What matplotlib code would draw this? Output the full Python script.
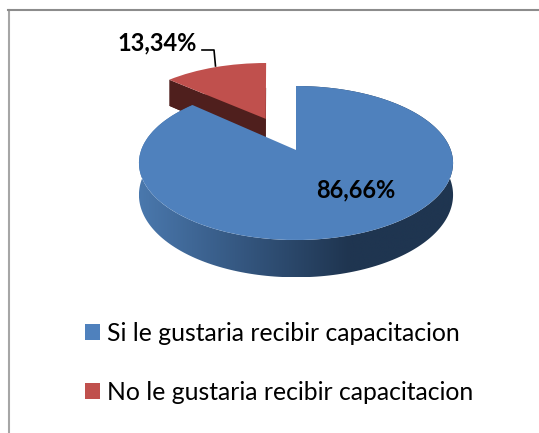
import numpy as np
import matplotlib
matplotlib.use("Agg")
import matplotlib.pyplot as plt
from matplotlib.colors import LinearSegmentedColormap
from matplotlib.patches import Patch, Polygon
from matplotlib.transforms import Transform

categories = ["Si le gustaria recibir capacitacion", "No le gustaria recibir capacitacion"]
values = [86.66, 13.34]
value_labels = ["86,66%", "13,34%"]
colors = ["#4f81bd", "#c0504d"]
wall_red = "#4f1f1d"
wall_blue = ["#4a78ad", "#34567f", "#1f3550", "#1f3550"]

plt.rcParams["font.family"] = ["Lato", "DejaVu Sans"]

# perspectiva del disco: (u, v) -> pixeles
CX, CY = 296.0, 150.0
RX, RY, K = 154.8, 74.8, 0.169
DEPTH = 31.0
EXPLODE = 0.49
RED_SHEAR = -3.5


class Persp(Transform):
    input_dims = 2
    output_dims = 2

    def __init__(self, drop=0.0, lean=0.0):
        super().__init__()
        self.drop = drop
        self.lean = lean

    def transform_non_affine(self, values):
        pts = np.asarray(values, dtype=float)
        u, v = pts[:, 0], pts[:, 1]
        w = 1 + K * v
        x = CX + RX * u / w + self.lean * v
        y = CY - RY * v / w + self.drop / w
        return np.column_stack([x, y])


fig = plt.figure(figsize=(5.39, 4.33), dpi=100)
ax = fig.add_axes([0, 0, 1, 1])


def set_limits():
    # limites en pixeles
    ax.set_aspect("auto")
    ax.set_xlim(0, 539)
    ax.set_ylim(433, 0)
    ax.axis("off")


def pie_layer(drop, face, only=None, zorder=2):
    wedges, _ = ax.pie(values, startangle=90, counterclock=False, colors=face,
                       explode=[0, EXPLODE], wedgeprops={"linewidth": 0})
    for i, wedge in enumerate(wedges):
        lean = RED_SHEAR if i == 1 else 0.0
        wedge.set_transform(Persp(drop, lean) + ax.transData)
        wedge.set_clip_on(False)
        wedge.set_zorder(zorder[i] if isinstance(zorder, list) else zorder)
        if only is not None and i != only:
            wedge.set_visible(False)
    return wedges


# angulos de corte sacados de los valores
cut = 90 - 360 * values[0] / 100 + 360   # angulo donde termina el azul
mid = np.deg2rad((cut + 90) / 2)
u0, v0 = EXPLODE * np.cos(mid), EXPLODE * np.sin(mid)

# pared roja
cut_pt = np.array([[u0, v0], [u0 + np.cos(np.deg2rad(cut)), v0 + np.sin(np.deg2rad(cut))]])
p_top = Persp(0, RED_SHEAR).transform_non_affine(cut_pt)
p_bot = Persp(DEPTH, RED_SHEAR).transform_non_affine(cut_pt)
ax.add_patch(Polygon(np.vstack([p_top, p_bot[::-1]]), closed=True, fc=wall_red, ec="none", zorder=1))
pie_layer(DEPTH, [colors[0], wall_red], only=1, zorder=1)

# pared azul con degradado
th = np.deg2rad(np.linspace(cut, cut + 360 * values[0] / 100, 240))
ring = np.column_stack([np.cos(th), np.sin(th)])
outline = np.vstack([Persp(0).transform_non_affine(ring), Persp(DEPTH).transform_non_affine(ring)[::-1]])
clip = Polygon(outline, closed=True, fc="none", ec="none", transform=ax.transData)
ax.add_patch(clip)
cmap = LinearSegmentedColormap.from_list("wall", wall_blue)
grad = ax.imshow(np.linspace(0, 1, 256)[None, :],
                 extent=[outline[:, 0].min(), outline[:, 0].max(), outline[:, 1].max(), outline[:, 1].min()],
                 cmap=cmap, aspect="auto", zorder=3)
grad.set_clip_path(clip)

# caras superiores
pie_layer(0, colors, zorder=[4, 2])
set_limits()

ax.text(355.5, 190, value_labels[0], fontsize=17, fontweight="bold", color="black",
        ha="center", va="center", zorder=6)
ax.text(157, 43, value_labels[1], fontsize=17, fontweight="bold", color="black",
        ha="center", va="center", zorder=6)
ax.plot([202, 214, 215.5], [50, 50, 66], color="black", lw=1.2, zorder=6)

# marco (solo arriba e izquierda)
ax.plot([9, 9], [433, 10], color="#a6a6a6", lw=1.5, zorder=0)
ax.plot([8, 539], [10, 10], color="#8c8c8c", lw=1.5, zorder=0)

handles = [Patch(fc=c, ec="none") for c in colors]
ax.legend(handles, categories, loc="upper left", bbox_to_anchor=(85 / 539, 1 - 322 / 433),
          frameon=False, fontsize=17.8, labelspacing=1.46, handlelength=0.61, handleheight=0.61,
          handletextpad=0.28, borderpad=0, borderaxespad=0)

fig.savefig("out.png", dpi=100)
